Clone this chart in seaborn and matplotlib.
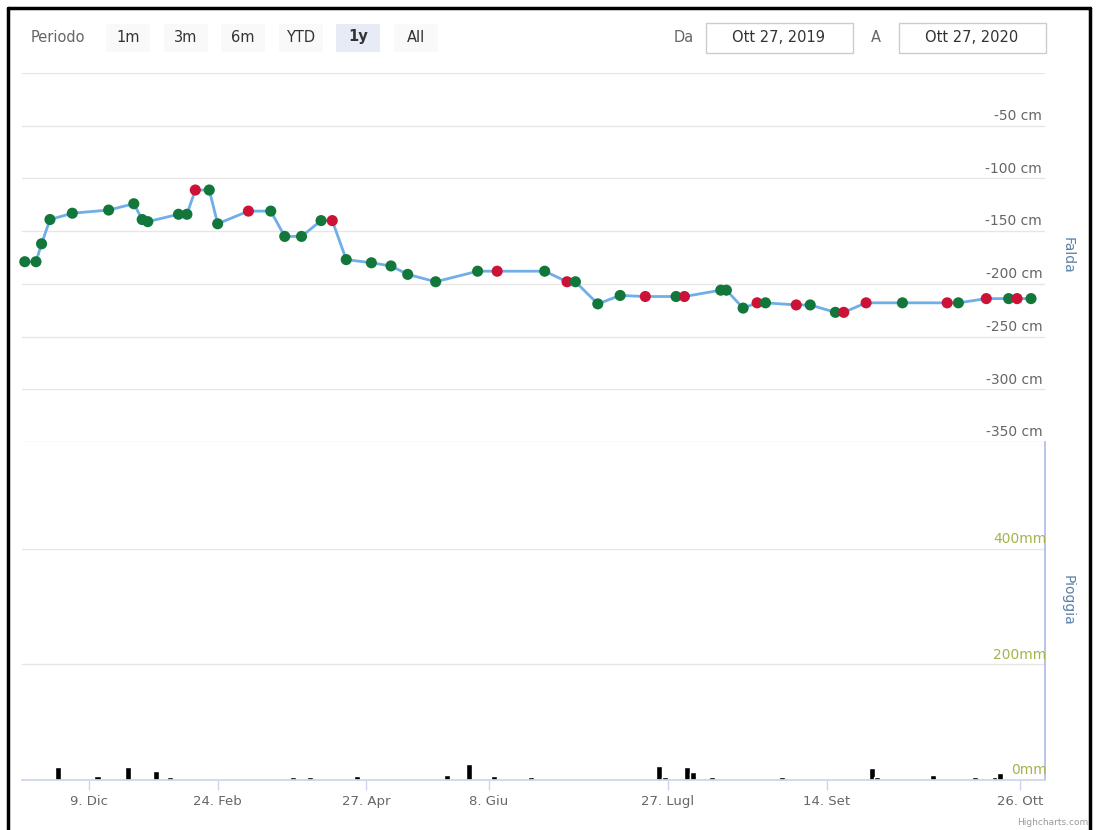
"""Livello di falda e pioggia, ultimo anno (ricostruzione del grafico Highcharts)."""

import matplotlib.pyplot as plt
import pandas as pd
import seaborn as sns
from matplotlib.lines import Line2D
from matplotlib.patches import Rectangle

W, H = 1096, 830

# posizione sull'asse ordinale (giorni circa) e livello di falda in cm
FALDA_GIORNO = [1, 5, 7, 10, 18, 31, 40, 43, 45, 56, 59, 62, 67, 70, 81, 89, 94,
                100, 107, 111, 116, 125, 132, 138, 148, 163, 170, 187, 195, 198,
                206, 214, 223, 234, 237, 250, 252, 258, 263, 266, 277, 282, 291,
                294, 302, 315, 331, 335, 345, 353, 356, 361]
FALDA_CM = [-179, -179, -162, -139, -133, -130, -124, -139, -141, -134, -134,
            -111, -111, -143, -131, -131, -155, -155, -140, -140, -177, -180,
            -183, -191, -198, -188, -188, -188, -198, -198, -219, -211, -212,
            -212, -212, -206, -206, -223, -218, -218, -220, -220, -227, -227,
            -218, -218, -218, -218, -214, -214, -214, -214]
FALDA_TIPO = ["g", "g", "g", "g", "g", "g", "g", "g", "g", "g", "g", "r", "g",
              "g", "r", "g", "g", "g", "g", "r", "g", "g", "g", "g", "g", "g",
              "r", "g", "r", "g", "g", "g", "r", "g", "r", "g", "g", "g", "r",
              "g", "r", "g", "g", "r", "r", "g", "r", "g", "r", "g", "r", "g"]

PIOGGIA_GIORNO = [13, 27, 38, 48, 53, 97, 103, 120, 152, 160, 169, 182, 228,
                  230, 238, 240, 247, 272, 304, 306, 326, 341, 348, 350]
PIOGGIA_MM = [22, 7, 22, 16, 5, 6, 5, 7, 9, 27, 7, 5, 25, 6, 23, 14, 6, 6, 21,
              6, 9, 6, 6, 12]

TICK_GIORNO = [24, 70, 123, 167, 231, 288, 357]
TICK_LABEL = ["9. Dic", "24. Feb", "27. Apr", "8. Giu", "27. Lugl", "14. Set", "26. Ott"]
CM_TICKS = [-50, -100, -150, -200, -250, -300, -350]
MM_TICKS = [0, 200, 400]

BOTTONI = ["1m", "3m", "6m", "YTD", "1y", "All"]


def fx(x):
    return x / W


def fy(y):
    return 1 - y / H


def main():
    sns.set_theme(style="white")
    plt.rcParams["font.family"] = ["DejaVu Sans"]

    falda = pd.DataFrame({"giorno": FALDA_GIORNO, "cm": FALDA_CM, "tipo": FALDA_TIPO})
    pioggia = pd.DataFrame({"giorno": PIOGGIA_GIORNO, "mm": PIOGGIA_MM})

    fig = plt.figure(figsize=(W / 100, H / 100), dpi=100)
    ax_f = fig.add_axes([fx(22), fy(442), 1023 / W, 369 / H])
    ax_p = fig.add_axes([fx(22), fy(780), 1023 / W, 338 / H])

    # pannello falda
    sns.lineplot(data=falda, x="giorno", y="cm", sort=False, estimator=None,
                 color="#6faee8", lw=2, ax=ax_f, zorder=2)
    sns.scatterplot(data=falda, x="giorno", y="cm", hue="tipo",
                    palette={"g": "#12773a", "r": "#cc1236"}, s=64, linewidth=0,
                    legend=False, ax=ax_f, zorder=3, clip_on=False)
    ax_f.set_xlim(0, 366)
    ax_f.set_ylim(-350, 0)
    ax_f.set_yticks([0] + CM_TICKS)
    ax_f.set_yticklabels([])
    ax_f.set_xticks([])
    ax_f.grid(axis="y", color="#e6e6e6", lw=1)
    ax_f.tick_params(length=0)
    ax_f.set_xlabel("")
    ax_f.set_ylabel("")
    for s in ax_f.spines.values():
        s.set_visible(False)
    for v in CM_TICKS:
        ax_f.annotate(f"{v} cm", xy=(1, v), xycoords=("axes fraction", "data"),
                      xytext=(-2, 7), textcoords="offset points", ha="right",
                      va="center", fontsize=10, color="#666666")

    # pannello pioggia
    sns.barplot(data=pioggia, x="giorno", y="mm", native_scale=True, color="black",
                width=1.1, errorbar=None, ax=ax_p, saturation=1)
    ax_p.set_xlim(0, 366)
    ax_p.set_ylim(0, 585)
    ax_p.set_yticks(MM_TICKS)
    ax_p.set_yticklabels([])
    ax_p.grid(axis="y", color="#e6e6e6", lw=1)
    ax_p.set_xticks(TICK_GIORNO)
    ax_p.set_xticklabels(TICK_LABEL, fontsize=9.5, color="#666666")
    ax_p.tick_params(axis="x", length=7, width=1, color="#ccd6eb", pad=4, bottom=True)
    ax_p.tick_params(axis="y", length=0)
    ax_p.set_xlabel("")
    ax_p.set_ylabel("")
    for name, s in ax_p.spines.items():
        s.set_visible(name in ("bottom", "right"))
    ax_p.spines["bottom"].set_color("#ccd6eb")
    ax_p.spines["right"].set_color("#aebbe6")
    for v in MM_TICKS:
        ax_p.annotate(f"{v}mm", xy=(1, v), xycoords=("axes fraction", "data"),
                      xytext=(1, 7), textcoords="offset points", ha="right",
                      va="center", fontsize=10, color="#a7b34a")

    fig.text(fx(1068), fy(255), "Falda", rotation=-90, ha="center", va="center",
             fontsize=10, color="#5b7fa6")
    fig.text(fx(1068), fy(600), "Pioggia", rotation=-90, ha="center", va="center",
             fontsize=10, color="#5b7fa6")

    # selettore periodo
    fig.text(fx(58), fy(37), "Periodo", ha="center", va="center", fontsize=10.5,
             color="#666666")
    for i, b in enumerate(BOTTONI):
        cx = 128 + i * 57.6
        sel = b == "1y"
        fig.add_artist(Rectangle((fx(cx - 22), fy(52)), 44 / W, 28 / H,
                                 transform=fig.transFigure,
                                 facecolor="#e6ebf5" if sel else "#f9f9f9",
                                 edgecolor="none"))
        fig.text(fx(cx), fy(37), b, ha="center", va="center", fontsize=10.5,
                 color="#333333", fontweight="bold" if sel else "normal")

    fig.text(fx(684), fy(37), "Da", ha="center", va="center", fontsize=10.5,
             color="#666666")
    fig.text(fx(876), fy(37), "A", ha="center", va="center", fontsize=10.5,
             color="#666666")
    for x0, testo in [(706, "Ott 27, 2019"), (899, "Ott 27, 2020")]:
        fig.add_artist(Rectangle((fx(x0), fy(53)), 147 / W, 30 / H,
                                 transform=fig.transFigure, facecolor="white",
                                 edgecolor="#cccccc", lw=1))
        fig.text(fx(x0 + 73), fy(38), testo, ha="center", va="center",
                 fontsize=10.5, color="#333333")

    fig.text(fx(1088), fy(822), "Highcharts.com", ha="right", va="center",
             fontsize=6.5, color="#999999")

    # cornice nera
    for xs, ys in [((8, 8), (8, 830)), ((8, 1090), (8, 8)), ((1090, 1090), (8, 830))]:
        fig.add_artist(Line2D([fx(x) for x in xs], [fy(y) for y in ys],
                              transform=fig.transFigure, color="black", lw=2.5))

    fig.savefig("out.png", dpi=100)


if __name__ == "__main__":
    main()
